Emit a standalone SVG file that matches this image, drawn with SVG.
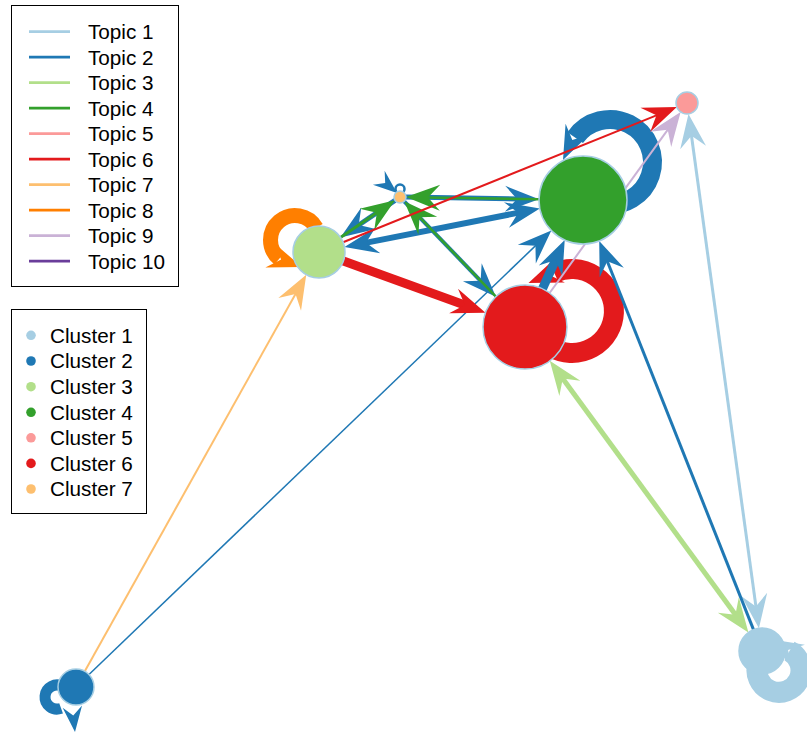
<svg xmlns="http://www.w3.org/2000/svg" xmlns:xlink="http://www.w3.org/1999/xlink" width="807" height="733" viewBox="0 0 807 733">
<style>
text{font-family:"Liberation Sans",Arial,sans-serif;font-size:20.7px;fill:#000}
.box{fill:#fff;stroke:#000;stroke-width:1}
.e{fill:none;stroke-linecap:butt}
.node{stroke:#A6CEE3;stroke-width:1.5}
.loop{fill:none}
</style>
<defs>
<path id="ah" d="M0,0 L-34,-13 L-22,0 L-34,13 Z"/>
<marker id="m1" viewBox="-16 -15 38 30" refX="0" refY="0" markerWidth="38" markerHeight="30" markerUnits="userSpaceOnUse" orient="auto-start-reverse"><path d="M20,0 L-14,-13 L-2,0 L-14,13 Z" fill="#A6CEE3"/></marker>
<marker id="m2" viewBox="-16 -15 38 30" refX="0" refY="0" markerWidth="38" markerHeight="30" markerUnits="userSpaceOnUse" orient="auto-start-reverse"><path d="M20,0 L-14,-13 L-2,0 L-14,13 Z" fill="#1F78B4"/></marker>
<marker id="m3" viewBox="-16 -15 38 30" refX="0" refY="0" markerWidth="38" markerHeight="30" markerUnits="userSpaceOnUse" orient="auto-start-reverse"><path d="M20,0 L-14,-13 L-2,0 L-14,13 Z" fill="#B2DF8A"/></marker>
<marker id="m4" viewBox="-16 -15 38 30" refX="0" refY="0" markerWidth="38" markerHeight="30" markerUnits="userSpaceOnUse" orient="auto-start-reverse"><path d="M20,0 L-14,-13 L-2,0 L-14,13 Z" fill="#33A02C"/></marker>
<marker id="m6" viewBox="-16 -15 38 30" refX="0" refY="0" markerWidth="38" markerHeight="30" markerUnits="userSpaceOnUse" orient="auto-start-reverse"><path d="M20,0 L-14,-13 L-2,0 L-14,13 Z" fill="#E31A1C"/></marker>
<marker id="m7" viewBox="-16 -15 38 30" refX="0" refY="0" markerWidth="38" markerHeight="30" markerUnits="userSpaceOnUse" orient="auto-start-reverse"><path d="M20,0 L-14,-13 L-2,0 L-14,13 Z" fill="#FDBF6F"/></marker>
<marker id="m9" viewBox="-16 -15 38 30" refX="0" refY="0" markerWidth="38" markerHeight="30" markerUnits="userSpaceOnUse" orient="auto-start-reverse"><path d="M20,0 L-14,-13 L-2,0 L-14,13 Z" fill="#CAB2D6"/></marker>
</defs>
<rect width="807" height="733" fill="#fff"/>

<g id="connectors">
  <!-- self loops -->
  <path class="loop" d="M551,347.4 A42,42 0 1 0 554.25,272.9" stroke="#E31A1C" stroke-width="20"/>
  <use xlink:href="#ah" href="#ah" fill="#E31A1C" transform="translate(528.5,283.1) rotate(158)"/>
  <path class="loop" d="M602.6,203.9 A42.5,42.5 0 1 0 575.2,137.6" stroke="#1F78B4" stroke-width="19"/>
  <use xlink:href="#ah" href="#ah" fill="#1F78B4" transform="translate(563,160) rotate(115)"/>
  <path class="loop" d="M316.2,227.75 A24.5,24.5 0 1 0 279.25,258.8" stroke="#FF7F00" stroke-width="15"/>
  <use xlink:href="#ah" href="#ah" fill="#FF7F00" transform="translate(301.8,267) rotate(20)"/>
  <path class="loop" d="M63,686.6 A12,12 0 1 0 61.1,708.3" stroke="#1F78B4" stroke-width="11"/>
  <use xlink:href="#ah" href="#ah" fill="#1F78B4" transform="translate(75,732) rotate(84) scale(0.75)"/>
  <path class="loop" d="M758.3,662.8 A22,22 0 1 0 789.5,651" stroke="#A6CEE3" stroke-width="21"/>
  <use xlink:href="#ah" href="#ah" fill="#A6CEE3" transform="translate(769,639) rotate(210)"/>
  <circle cx="400" cy="189" r="4.5" fill="none" stroke="#1F78B4" stroke-width="2.5"/>
  <use xlink:href="#ah" href="#ah" fill="#1F78B4" transform="translate(397,193) rotate(40) scale(0.7)"/>

  <!-- straight edges -->
  <path class="e" d="M756.2,608.4 L691.2,133.7" stroke="#A6CEE3" stroke-width="3" marker-start="url(#m1)" marker-end="url(#m1)"/>
  <path class="e" d="M753.5,629.6 L606.6,259.5" stroke="#1F78B4" stroke-width="3" marker-end="url(#m2)"/>
  <path class="e" d="M736.6,616.3 L561.6,377" stroke="#B2DF8A" stroke-width="5" marker-start="url(#m3)" marker-end="url(#m3)"/>
  <path class="e" d="M89,674.5 L536.9,244.4" stroke="#1F78B4" stroke-width="1.5" marker-end="url(#m2)"/>
  <path class="e" d="M84.8,671.3 L296.5,292.2" stroke="#FDBF6F" stroke-width="2" marker-end="url(#m7)"/>
  <path class="e" d="M364.1,243.1 L520.2,212.4" stroke="#1F78B4" stroke-width="6" marker-start="url(#m2)" marker-end="url(#m2)"/>
  <path class="e" d="M406,197.1 L519,199" stroke="#1F78B4" stroke-width="5" marker-end="url(#m2)"/>
  <path class="e" d="M395,200.4 L357,226.2" stroke="#1F78B4" stroke-width="5" marker-end="url(#m2)"/>
  <path class="e" d="M404.2,201.3 L482,282.3" stroke="#1F78B4" stroke-width="4" marker-end="url(#m2)"/>
  <path class="e" d="M542.4,288.8 L556.4,258.2" stroke="#1F78B4" stroke-width="9" marker-end="url(#m2)"/>
  <path class="e" d="M539,199.3 L426,197.4" stroke="#33A02C" stroke-width="2.5" marker-end="url(#m4)"/>
  <path class="e" d="M340.5,237.4 L378.5,211.6" stroke="#33A02C" stroke-width="3" marker-end="url(#m4)"/>
  <path class="e" d="M495.9,296.7 L418.1,215.7" stroke="#33A02C" stroke-width="2.5" marker-end="url(#m4)"/>
  <path class="e" d="M343.4,260.9 L466.7,305.8" stroke="#E31A1C" stroke-width="9" marker-end="url(#m6)"/>
  <path class="e" d="M343.1,242.2 L658.3,114.6" stroke="#E31A1C" stroke-width="2" marker-end="url(#m6)"/>
  <path class="e" d="M549.6,293 L668.9,128.1" stroke="#CAB2D6" stroke-width="2" marker-end="url(#m9)"/>
</g>

<g id="cluster1"><circle class="node" cx="762" cy="651" r="23" fill="#A6CEE3"/></g>
<g id="cluster2"><circle class="node" cx="76" cy="687" r="18" fill="#1F78B4"/></g>
<g id="cluster3"><circle class="node" cx="319" cy="252" r="26" fill="#B2DF8A"/></g>
<g id="cluster4"><circle class="node" cx="583" cy="200" r="44" fill="#33A02C"/></g>
<g id="cluster5"><circle class="node" cx="687" cy="103" r="11" fill="#FB9A99"/></g>
<g id="cluster6"><circle class="node" cx="525" cy="327" r="42" fill="#E31A1C"/></g>
<g id="cluster7"><circle class="node" cx="400" cy="197" r="6" fill="#FDBF6F"/></g>

<g id="legend-topics">
  <rect class="box" x="11.5" y="5.5" width="167" height="281"/>
  <g stroke-width="2.7">
    <line x1="29" y1="31.7" x2="70" y2="31.7" stroke="#A6CEE3"/>
    <line x1="29" y1="57.2" x2="70" y2="57.2" stroke="#1F78B4"/>
    <line x1="29" y1="82.7" x2="70" y2="82.7" stroke="#B2DF8A"/>
    <line x1="29" y1="108.2" x2="70" y2="108.2" stroke="#33A02C"/>
    <line x1="29" y1="133.7" x2="70" y2="133.7" stroke="#FB9A99"/>
    <line x1="29" y1="159.2" x2="70" y2="159.2" stroke="#E31A1C"/>
    <line x1="29" y1="184.7" x2="70" y2="184.7" stroke="#FDBF6F"/>
    <line x1="29" y1="210.2" x2="70" y2="210.2" stroke="#FF7F00"/>
    <line x1="29" y1="235.7" x2="70" y2="235.7" stroke="#CAB2D6"/>
    <line x1="29" y1="261.2" x2="70" y2="261.2" stroke="#6A3D9A"/>
  </g>
  <text x="88" y="39">Topic 1</text>
  <text x="88" y="64.5">Topic 2</text>
  <text x="88" y="90">Topic 3</text>
  <text x="88" y="115.5">Topic 4</text>
  <text x="88" y="141">Topic 5</text>
  <text x="88" y="166.5">Topic 6</text>
  <text x="88" y="192">Topic 7</text>
  <text x="88" y="217.5">Topic 8</text>
  <text x="88" y="243">Topic 9</text>
  <text x="88" y="268.5">Topic 10</text>
</g>

<g id="legend-clusters">
  <rect class="box" x="11.5" y="309.5" width="135" height="204"/>
  <circle cx="31" cy="335.3" r="4.8" fill="#A6CEE3"/>
  <circle cx="31" cy="361" r="4.8" fill="#1F78B4"/>
  <circle cx="31" cy="386.7" r="4.8" fill="#B2DF8A"/>
  <circle cx="31" cy="412.3" r="4.8" fill="#33A02C"/>
  <circle cx="31" cy="437.8" r="4.8" fill="#FB9A99"/>
  <circle cx="31" cy="463.4" r="4.8" fill="#E31A1C"/>
  <circle cx="31" cy="489" r="4.8" fill="#FDBF6F"/>
  <text x="50" y="342.6">Cluster 1</text>
  <text x="50" y="368.3">Cluster 2</text>
  <text x="50" y="394">Cluster 3</text>
  <text x="50" y="419.6">Cluster 4</text>
  <text x="50" y="445.1">Cluster 5</text>
  <text x="50" y="470.7">Cluster 6</text>
  <text x="50" y="496.3">Cluster 7</text>
</g>
</svg>
